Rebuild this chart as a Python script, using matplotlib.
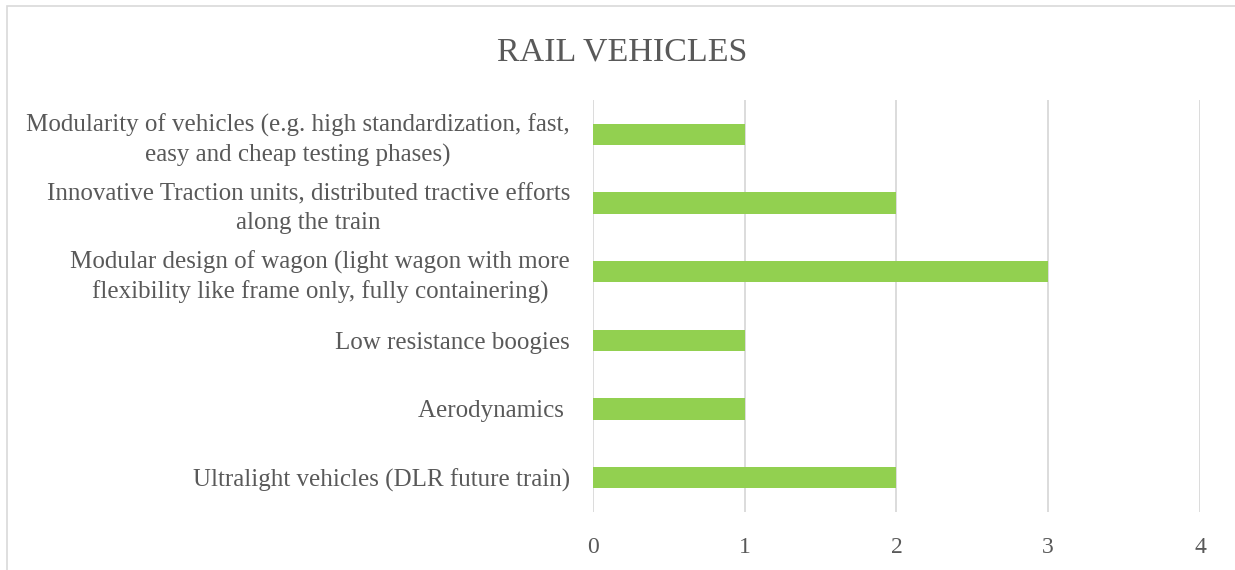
import matplotlib.pyplot as plt
from matplotlib.patches import Rectangle

# Data (bottom to top, as drawn)
categories = [
    "Ultralight vehicles (DLR future train)",
    "Aerodynamics ",
    "Low resistance boogies",
    "Modular design of wagon (light wagon with more\nflexibility like frame only, fully containering)",
    "Innovative Traction units, distributed tractive efforts\nalong the train",
    "Modularity of vehicles (e.g. high standardization, fast,\neasy and cheap testing phases)",
]
values = [2, 1, 1, 3, 2, 1]
x_ticks = [0, 1, 2, 3, 4]

text_color = "#595959"
grid_color = "#D9D9D9"
bar_color = "#92D050"

plt.rcParams['font.family'] = ['Liberation Serif', 'DejaVu Serif']

fig = plt.figure(figsize=(12.35, 5.7), dpi=100)
ax = fig.add_axes([0.480, 0.1018, 0.4917, 0.7228])

ax.barh(range(len(categories)), values, height=0.313, color=bar_color, zorder=3)

ax.set_xlim(0, 4)
ax.set_ylim(-0.5, len(categories) - 0.5)
ax.set_xticks(x_ticks)
ax.set_xticklabels([str(t) for t in x_ticks], fontsize=17, color=text_color)
ax.set_yticks(range(len(categories)))
ax.set_yticklabels(categories, fontsize=18, color=text_color,
                   multialignment='center', linespacing=1.36)
ax.tick_params(axis='both', length=0)
ax.tick_params(axis='y', pad=16.5)
ax.tick_params(axis='x', pad=18)

ax.grid(axis='x', color=grid_color, linewidth=1.3, zorder=0)
for s in ax.spines.values():
    s.set_visible(False)

fig.suptitle("RAIL VEHICLES", x=0.5036, y=0.935, fontsize=24.5, color=text_color)

# chart border (only top and left visible in the crop)
fig.patches.append(Rectangle((0.0057, -0.1), 1.2, 1.0895, transform=fig.transFigure,
                             fill=False, edgecolor=grid_color, linewidth=1.2))

fig.savefig("out.png", dpi=100)
